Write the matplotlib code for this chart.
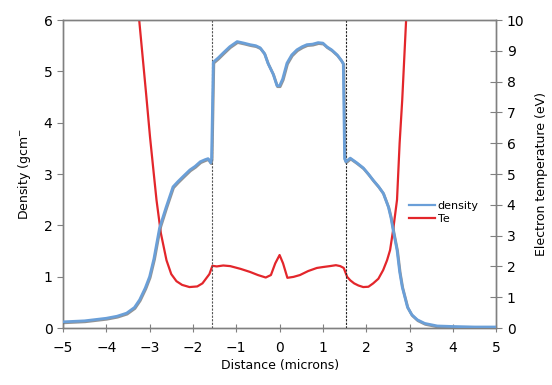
import matplotlib
matplotlib.use('agg')
import matplotlib.pyplot as plt
import matplotlib.patheffects as pe
from matplotlib.lines import Line2D
import numpy as np

# density profile (g/cm^3) vs distance (microns)
dist_rho = [-5.0, -4.5, -4.0, -3.75, -3.53, -3.35, -3.23, -3.1, -3.0, -2.9, -2.77, -2.62,
            -2.46, -2.35, -2.23, -2.07, -1.95, -1.83, -1.72, -1.65, -1.59, -1.57,
            -1.53, -1.42, -1.3, -1.15, -0.98, -0.82, -0.68, -0.55, -0.45, -0.35, -0.27,
            -0.15, -0.06, 0.0, 0.07, 0.17, 0.28, 0.4, 0.52, 0.63, 0.76, 0.89, 1.0, 1.09,
            1.2, 1.33, 1.42, 1.47, 1.5, 1.53, 1.63, 1.78, 1.93, 2.05, 2.16, 2.28, 2.39,
            2.51, 2.57, 2.62, 2.71, 2.77, 2.83, 2.95, 3.05, 3.18, 3.35, 3.64, 4.0, 4.5, 5.0]
density = [0.12, 0.14, 0.19, 0.23, 0.29, 0.40, 0.55, 0.78, 1.0, 1.35, 1.95, 2.35,
           2.75, 2.85, 2.95, 3.08, 3.15, 3.24, 3.28, 3.3, 3.22, 3.3,
           5.18, 5.26, 5.36, 5.48, 5.58, 5.55, 5.52, 5.5, 5.46, 5.35, 5.16,
           4.95, 4.72, 4.72, 4.85, 5.16, 5.32, 5.42, 5.48, 5.52, 5.53, 5.56, 5.55, 5.48,
           5.42, 5.32, 5.22, 5.15, 3.3, 3.24, 3.31, 3.22, 3.12, 3.0, 2.88, 2.76, 2.63,
           2.36, 2.15, 1.91, 1.52, 1.1, 0.80, 0.41, 0.26, 0.16, 0.09, 0.04, 0.03, 0.02, 0.02]

# electron temperature (eV)
dist_te = [-3.32, -3.24, -3.16, -3.08, -2.99, -2.91, -2.84, -2.74, -2.61, -2.5, -2.38,
           -2.25, -2.08, -1.9, -1.78, -1.7, -1.62, -1.55, -1.45, -1.3, -1.14, -0.9,
           -0.68, -0.5, -0.32, -0.2, -0.1, 0.0, 0.08, 0.18, 0.32, 0.47, 0.66, 0.86,
           1.0, 1.16, 1.3, 1.4, 1.48, 1.56, 1.63, 1.72, 1.82, 1.93, 2.05, 2.16, 2.28,
           2.39, 2.48, 2.55, 2.62, 2.71, 2.77, 2.83, 2.92, 2.98]
te = [11.2, 10.0, 8.8, 7.6, 6.2, 5.1, 4.15, 3.08, 2.2, 1.75, 1.52,
      1.4, 1.33, 1.35, 1.45, 1.6, 1.75, 2.02, 2.0, 2.03, 2.01, 1.92,
      1.82, 1.72, 1.64, 1.72, 2.1, 2.37, 2.1, 1.63, 1.66, 1.72, 1.85, 1.95,
      1.98, 2.01, 2.04, 2.01, 1.95, 1.66, 1.55, 1.45, 1.38, 1.33, 1.34, 1.45, 1.6,
      1.88, 2.2, 2.53, 3.18, 4.16, 6.0, 7.4, 10.0, 11.5]

shock_pos = [-1.57, 1.53]

blue = '#6a9fd8'
red = '#e3262b'

fig = plt.figure(figsize=(5.52, 3.85), dpi=100)
ax = fig.add_axes([0.114, 0.148, 0.785, 0.80])
ax2 = ax.twinx()

axis_col = '#808080'
for a in (ax, ax2):
    for s in a.spines.values():
        s.set_color(axis_col)
        s.set_linewidth(1.0)
ax2.set_zorder(1)
ax.set_zorder(2)
ax.patch.set_visible(False)

for xs, c in zip(shock_pos, ['#555555', '#222222']):
    ax.axvline(xs, color=c, lw=0.8, ls=(0, (2.0, 1.2)), zorder=1)

ax.plot(dist_rho, density, color=blue, lw=2.0, zorder=3,
        path_effects=[pe.SimpleLineShadow(offset=(0.4, -0.7), shadow_color='#666666', alpha=0.7),
                      pe.Normal()])
ax2.plot(dist_te, te, color=red, lw=1.6, zorder=3)

ax.set_xlim(-5, 5)
ax.set_ylim(0, 6)
ax2.set_ylim(0, 10)
ax.set_xticks(np.arange(-5, 6, 1))
ax.set_yticks(np.arange(0, 7, 1))
ax2.set_yticks(np.arange(0, 11, 1))

ax.tick_params(axis='x', direction='inout', length=6, color=axis_col, labelsize=10, pad=6)
ax.tick_params(axis='y', direction='out', length=4, color=axis_col, labelsize=10)
ax2.tick_params(axis='y', direction='inout', length=8, color=axis_col, labelsize=10)

ax.set_xlabel('Distance (microns)', fontsize=9, labelpad=3)
ax.set_ylabel('Density (gcm$^{-}$', fontsize=9, labelpad=8)
ax2.set_ylabel('Electron temperature (eV)', fontsize=9, labelpad=8)

handles = [Line2D([], [], color=blue, lw=1.6), Line2D([], [], color=red, lw=1.6)]
ax.legend(handles, ['density', 'Te'], loc='center left', bbox_to_anchor=(0.775, 0.375),
          frameon=False, fontsize=8, handlelength=2.4, handletextpad=0.2, labelspacing=0.3)

fig.savefig('out.png', dpi=100)
